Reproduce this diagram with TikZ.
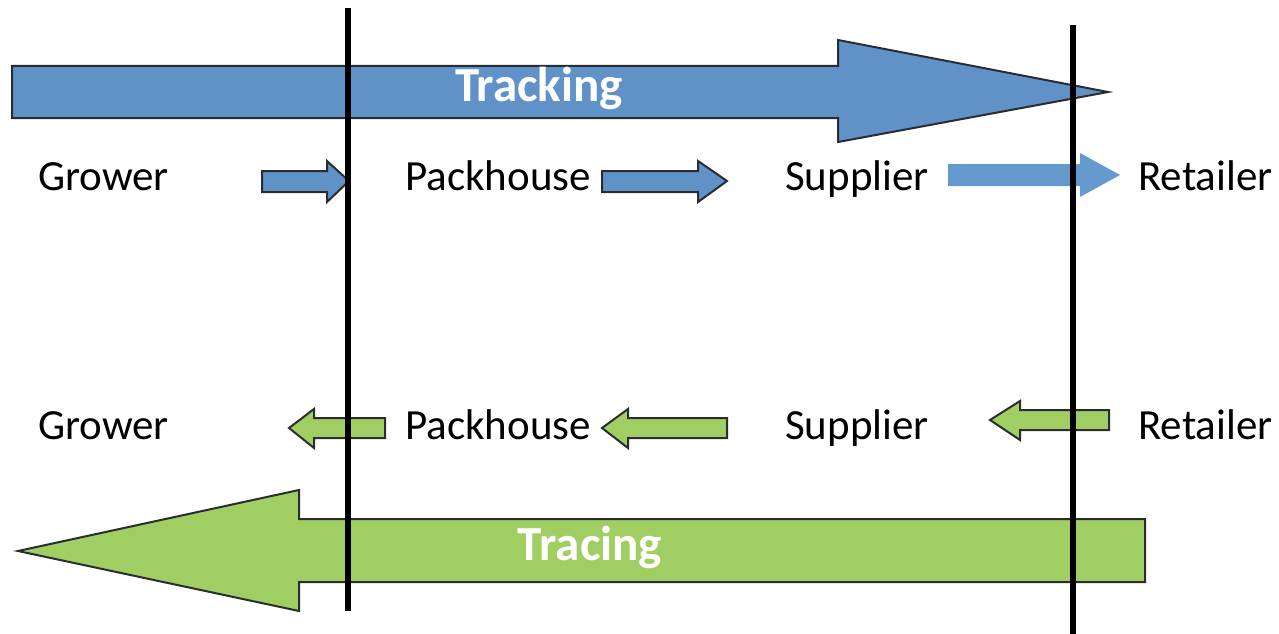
\documentclass[tikz,border=0pt]{standalone}
\usepackage{fontspec}
\setmainfont{Carlito}
\definecolor{trackblue}{RGB}{96,146,200}
\definecolor{flowblue}{RGB}{102,153,206}
\definecolor{tracegreen}{RGB}{160,206,98}
\definecolor{edgegrey}{RGB}{40,45,50}
\begin{document}
\begin{tikzpicture}[x=1pt,y=-1pt,
  party/.style={anchor=base west,font=\fontsize{43}{50}\selectfont,inner sep=0pt},
  bigtext/.style={font=\bfseries\fontsize{49}{56}\selectfont,text=white,inner sep=0pt,anchor=base},
  bluearrow/.style={fill=trackblue,draw=edgegrey,line width=2pt,line join=miter},
  plainarrow/.style={fill=flowblue,draw=none},
  greenarrow/.style={fill=tracegreen,draw=edgegrey,line width=2pt,line join=miter},
  divider/.style={line width=6pt,black}]
\useasboundingbox (0,0) rectangle (1279,634);

% large block arrows
\draw[bluearrow] (12,66) -- (838,66) -- (838,40) -- (1108,92) -- (838,142) -- (838,118) -- (12,118) -- cycle;
\node[bigtext] (tracking) at (539,101) {Tracking};
\draw[greenarrow] (1145,519) -- (299,519) -- (299,490) -- (18,551) -- (299,611) -- (299,582) -- (1145,582) -- cycle;
\node[bigtext] (tracing) at (590,560) {Tracing};

% upper chain
\node[party] (g1) at (38,190) {Grower};
\node[party] (p1) at (405,190) {Packhouse};
\node[party] (s1) at (785,190) {Supplier};
\node[party] (r1) at (1138,190) {Retailer};
\draw[bluearrow] (262,171) -- (327,171) -- (327,161) -- (349,181) -- (327,202) -- (327,192) -- (262,192) -- cycle;
\draw[bluearrow] (602,171) -- (698,171) -- (698,161) -- (727,181) -- (698,202) -- (698,192) -- (602,192) -- cycle;
\fill[plainarrow] (948,164) -- (1080,164) -- (1080,153) -- (1120,175) -- (1080,197) -- (1080,186) -- (948,186) -- cycle;

% lower chain
\node[party] (g2) at (38,439) {Grower};
\node[party] (p2) at (405,439) {Packhouse};
\node[party] (s2) at (785,439) {Supplier};
\node[party] (r2) at (1138,439) {Retailer};
\draw[greenarrow] (385,418) -- (314,418) -- (314,409) -- (289,428) -- (314,448) -- (314,438) -- (385,438) -- cycle;
\draw[greenarrow] (727,418) -- (628,418) -- (628,409) -- (602,428) -- (628,448) -- (628,438) -- (727,438) -- cycle;
\draw[greenarrow] (1109,410) -- (1020,410) -- (1020,401) -- (990,420) -- (1020,440) -- (1020,430) -- (1109,430) -- cycle;

% stage boundaries
\coordinate (b1top) at (348,8);
\coordinate (b1bot) at (348,611);
\coordinate (b2top) at (1073,25);
\coordinate (b2bot) at (1073,634);
\draw[divider] (b1top) -- (b1bot);
\draw[divider] (b2top) -- (b2bot);
\end{tikzpicture}
\end{document}
